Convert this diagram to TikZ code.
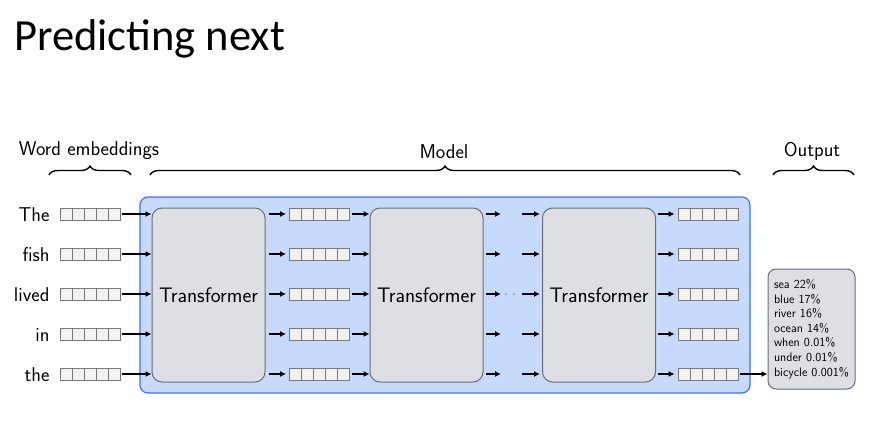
\documentclass[tikz,border=0pt]{standalone}
\usepackage{fontspec}
\newfontfamily\titlefont{Carlito}
\usetikzlibrary{arrows.meta, decorations.pathreplacing}

\definecolor{modelfill}{HTML}{C8DAFC}
\definecolor{modeledge}{HTML}{3C74EE}
\definecolor{tffill}{HTML}{DEDFE4}
\definecolor{tfedge}{HTML}{6A6D76}
\definecolor{cellfill}{HTML}{F2F2F2}
\definecolor{celledge}{HTML}{7A7A7A}

\tikzset{
  lbl/.style = {font=\sffamily\fontsize{20}{22}\selectfont},
  vec/.style = {draw=celledge, fill=cellfill, line width=0.8pt, minimum width=60pt,
    minimum height=12pt, inner sep=0pt,
    path picture={\foreach \k in {1,...,4}
      \draw[celledge, line width=0.8pt] ([xshift=\k*12pt]path picture bounding box.south west)
        -- ([xshift=\k*12pt]path picture bounding box.north west);}},
  tf/.style = {draw=tfedge, fill=tffill, line width=1pt, rounded corners=10pt,
    minimum width=113pt, minimum height=174pt, font=\sffamily\fontsize{21}{24}\selectfont},
  arr/.style = {-{Latex[length=6pt,width=6pt]}, line width=1.2pt},
  brc/.style = {decorate, decoration={brace, amplitude=9pt}, line width=1.4pt},
  dotdot/.style = {line width=1.3pt, line cap=round, dash pattern=on 0pt off 8pt}
}

\begin{document}
\begin{tikzpicture}[x=1pt, y=-1pt]
\useasboundingbox (0,0) rectangle (881,437);

\node[anchor=base west, inner sep=0pt, font=\titlefont\fontsize{44.5}{50}\selectfont] (title) at (14,50) {Predicting next};

% headers and braces
\node[lbl] (hwe) at (89,151) {Word embeddings};
\node[lbl] (hmodel) at (444,152) {Model};
\node[lbl] (hout) at (812,151) {Output};

\draw[brc] (49,175) -- (131,175);
\draw[brc] (150,175) -- (740,175);
\draw[brc] (773,175) -- (854,175);

% model box
\node[draw=modeledge, fill=modelfill, line width=1.2pt, rounded corners=8pt,
  minimum width=610pt, minimum height=196pt] (model) at (445,295) {};

\node[tf] (t1) at (208.5,295) {Transformer};
\node[tf] (t2) at (426.5,295) {Transformer};
\node[tf] (t3) at (599,295) {Transformer};

\node[draw=tfedge, fill=tffill, line width=1pt, rounded corners=8pt, align=left,
  text width=75pt, inner xsep=6pt, minimum height=120pt,
  font=\sffamily\fontsize{12.3}{14.6}\selectfont] (out) at (811.5,329)
  {sea 22\%\\blue 17\%\\river 16\%\\ocean 14\%\\when 0.01\%\\under 0.01\%\\bicycle 0.001\%};

\foreach \w [count=\i] in {The, fish, lived, in, the} {
  \node[lbl, anchor=base east] (w\i) at (53,174+40*\i+7) {\w};
  \node[vec] (a\i) at (90,174+40*\i) {};
  \node[vec] (b\i) at (319.5,174+40*\i) {};
  \node[vec] (c\i) at (708,174+40*\i) {};
  \coordinate (p\i) at (501,174+40*\i);
  \coordinate (q\i) at (522,174+40*\i);

  \draw[arr, shorten <=2pt] (a\i) -- (t1.west |- a\i);
  \draw[arr, shorten <=3pt, shorten >=3pt] (t1.east |- b\i) -- (b\i);
  \draw[arr, shorten <=2pt] (b\i) -- (t2.west |- b\i);
  \draw[arr, shorten <=2pt] (t2.east |- p\i) -- (p\i);
  \draw[arr, shorten >=2pt] (q\i) -- (t3.west |- q\i);
  \draw[arr, shorten <=2pt, shorten >=3pt] (t3.east |- c\i) -- (c\i);
}
\draw[dotdot] ([xshift=5pt]p3) -- ([xshift=-4pt]q3);
\draw[arr, shorten <=2pt] (c5) -- (out.west |- c5);

\end{tikzpicture}
\end{document}
